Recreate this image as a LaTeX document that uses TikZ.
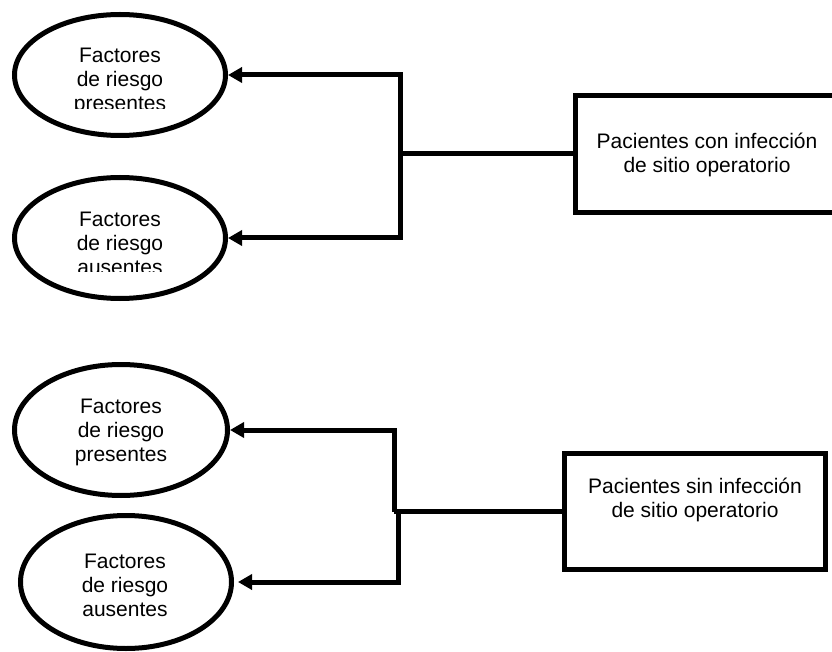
\documentclass[tikz,border=0pt]{standalone}
\usepackage{fontspec}
\setmainfont{Liberation Sans}
\usetikzlibrary{arrows.meta,shapes.geometric}
\begin{document}
\begin{tikzpicture}[x=1pt,y=-1pt,
  oval/.style={draw,ellipse,line width=5pt,inner sep=0pt},
  box/.style={draw,rectangle,line width=5pt,inner sep=0pt},
  lbl/.style={font=\fontsize{21}{24}\selectfont,align=center,inner sep=0pt},
  conn/.style={line width=5pt,line join=miter},
  arr/.style={conn,-{Triangle[length=14pt,width=15pt]}}]
\useasboundingbox (0,0) rectangle (832,652);
\begin{scope}
\clip (0,0) rectangle (832,652);
% ellipses
\node[oval,minimum width=211pt,minimum height=121pt] (e1) at (120,75) {};
\node[oval,minimum width=211pt,minimum height=121pt] (e2) at (120,238) {};
\node[oval,minimum width=213pt,minimum height=131pt] (e3) at (121,430) {};
\node[oval,minimum width=211pt,minimum height=133pt] (e4) at (126,582) {};
% clipped texts in the upper ellipses
\begin{scope}
\clip (0,0) rectangle (260,109);
\node[lbl] (t1) at (120,81) {Factores\\de riesgo\\presentes};
\end{scope}
\begin{scope}
\clip (0,160) rectangle (260,271);
\node[lbl] (t2) at (120,243) {Factores\\de riesgo\\ausentes};
\end{scope}
\node[lbl] (t3) at (121,432) {Factores\\de riesgo\\presentes};
\node[lbl] (t4) at (125,585) {Factores\\de riesgo\\ausentes};
% boxes
\node[box,minimum width=263pt,minimum height=117pt] (b1) at (707,154) {};
\node[lbl] (tb1) at (707,155) {Pacientes con infección\\de sitio operatorio};
\node[box,minimum width=261pt,minimum height=116pt] (b2) at (695,511.5) {};
\node[lbl] (tb2) at (695,500) {Pacientes sin infección\\de sitio operatorio};
% connectors
\coordinate (j1) at (400,154);
\draw[conn] (b1.west) -- (j1);
\draw[arr] (j1) |- (e1.east);
\draw[arr] (j1) |- (e2.east);
\coordinate (j2) at (394,511.5);
\coordinate (j3) at (398,511.5);
\draw[conn] (b2.west) -- (j2);
\draw[arr] (j2) |- (e3.east);
\draw[arr] (j3) |- ([xshift=4pt]e4.east);
\end{scope}
\end{tikzpicture}
\end{document}
